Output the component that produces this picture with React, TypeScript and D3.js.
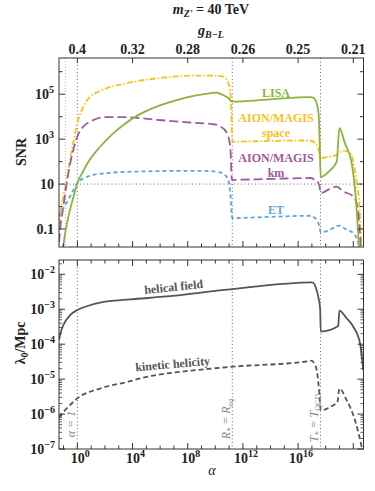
import React from "react";
import * as d3 from "d3";

type P = [number, number];

// log10(alpha), log10(SNR)
const lisa: P[] = [
  [-1.06, -1.95], [-1.01, -1.7], [-0.8, -0.9], [-0.53, -0.14], [-0.25, 0.5], [0, 1.04], [0.4, 1.55],
  [0.92, 2.1], [1.64, 2.65], [2.5, 3.2], [3.31, 3.62], [4.5, 4.1], [5.75, 4.45], [7, 4.7],
  [8.17, 4.89], [9.2, 5.0], [10.1, 5.07], [10.4, 5.0], [10.9, 4.85], [11.23, 4.67], [14, 4.77],
  [16.86, 4.87], [17.1, 4.85], [17.35, 4.6], [17.5, 4.0], [17.58, 2.5], [17.64, 1.31],
  [18.3, 1.6], [18.8, 2.0], [18.99, 3.49], [19.4, 2.8], [19.88, 1.95], [20.15, 0.6], [20.43, -1.95],
];
const aionSpace: P[] = [
  [-1.33, -0.8], [-1.25, -0.4], [-1.01, 0.45], [-0.75, 1.3], [-0.53, 2.08], [-0.25, 3.0], [0, 3.71],
  [0.4, 4.4], [0.92, 4.89], [1.5, 5.1], [2.13, 5.27], [3.3, 5.45], [4.54, 5.6], [6, 5.72],
  [6.96, 5.78], [8.89, 5.83], [10.0, 5.82], [10.58, 5.78], [10.94, 5.49], [11.1, 5.0], [11.2, 3.5],
  [11.23, 2.89], [14, 2.92], [16.86, 2.94], [17.2, 2.85], [17.45, 2.6], [17.64, 2.16], [18.3, 2.22],
  [18.8, 2.3], [19.28, 2.49], [19.77, 2.38], [20.0, 2.0], [20.25, 1.06], [20.45, 0], [20.6, -1.95],
];
const aionKm: P[] = [
  [-1.33, -1.6], [-1.25, -1.03], [-1.01, 0.0], [-0.8, 0.9], [-0.65, 1.49], [-0.3, 2.5], [0, 3.12],
  [0.43, 3.56], [0.92, 3.78], [2.13, 3.98], [3.33, 3.98], [5.75, 3.86], [8.17, 3.74], [10.1, 3.64],
  [10.35, 3.56], [10.7, 3.4], [10.94, 3.12], [11.1, 2.5], [11.2, 1.19], [14, 1.23], [16.86, 1.27],
  [17.2, 1.2], [17.4, 1.12], [17.55, 0.9], [17.64, 0.6], [18.2, 0.75], [18.8, 0.89], [19.28, 0.67],
  [20.0, 0.45], [20.3, 0], [20.56, -1.95],
];
const et: P[] = [
  [-1.33, -0.45], [-1.25, -0.29], [-1.01, -0.07], [-0.53, 0.45], [0, 1.04], [0.92, 1.37],
  [2.13, 1.49], [4.54, 1.56], [8.17, 1.59], [9.5, 1.58], [10.35, 1.52], [10.7, 1.4], [10.94, 1.19],
  [11.1, 0.5], [11.23, -0.51], [14, -0.46], [16.86, -0.41], [17.2, -0.5], [17.35, -0.59],
  [17.55, -0.9], [17.64, -1.15], [18.07, -1.1], [18.99, -0.85], [19.5, -1.03], [20.0, -1.18],
  [20.3, -1.5], [20.49, -1.95],
];
// log10(alpha), log10(lambda0 / Mpc)
const helical: P[] = [
  [-1.33, -3.88], [-1.2, -3.65], [-1.01, -3.45], [-0.53, -3.17], [0, -3.02], [0.8, -2.9],
  [1.64, -2.81], [3.82, -2.72], [6.23, -2.64], [11.07, -2.43], [16.99, -2.23], [17.1, -2.24],
  [17.3, -2.4], [17.46, -2.64], [17.6, -3.0], [17.64, -3.64], [18.91, -3.48], [18.99, -3.04],
  [19.5, -3.25], [20.0, -3.5], [20.49, -3.98], [20.72, -4.74],
];
const kinetic: P[] = [
  [-1.33, -6.1], [-1.13, -6.0], [-0.77, -5.84], [0, -5.55], [1.64, -5.27], [3.82, -5.06],
  [4.54, -4.98], [8.65, -4.74], [11.07, -4.65], [16.86, -4.48], [16.99, -4.47], [17.2, -4.58],
  [17.35, -4.74], [17.54, -5.41], [17.64, -5.89], [18.67, -5.72], [18.84, -5.68], [18.99, -5.27],
  [19.52, -5.6], [20.12, -6.17], [20.61, -6.94], [20.7, -7.1],
];

const xMajor = [0, 4, 8, 12, 16, 20];
const xMajorLabels = ["0", "4", "8", "12", "16"];
const gLabels = ["0.4", "0.32", "0.28", "0.26", "0.25", "0.21"];
const snrTicks = [-1, 1, 3, 5];
const snrLabels = ["0.1", "10", "10^3", "10^5"];
const lamTicks = [-7, -6, -5, -4, -3, -2];
const vLines = [0, 11.23, 17.62];

const FONT = "'Liberation Serif', 'Times New Roman', serif";
const C_GREEN = "#8cb33c";
const C_YELLOW = "#fcc01a";
const C_PURPLE = "#9e5a9e";
const C_BLUE = "#5ba6d6";
const C_DARK = "#555555";

export default function App() {
  const L = 59, R = 363.5;
  const T1 = 58, B1 = 247, T2 = 260, B2 = 449;
  const x = d3.scaleLog().domain([10 ** -1.33, 10 ** 20.74]).range([L, R]);
  const yTop = d3.scaleLog().domain([10 ** -1.8, 10 ** 6.61]).range([B1, T1]);
  const yBot = d3.scaleLog().domain([1e-7, 10 ** -1.59]).range([B2, T2]);
  const lineTop = d3.line<P>().x(d => x(10 ** d[0])).y(d => yTop(10 ** d[1])).curve(d3.curveMonotoneX);
  const lineBot = d3.line<P>().x(d => x(10 ** d[0])).y(d => yBot(10 ** d[1])).curve(d3.curveMonotoneX);
  const decades = d3.range(-1, 21);
  const snrDec = d3.range(-1, 7);
  const lamMinor: number[] = [];
  for (let e = -7; e <= -2; e++) for (let k = 2; k <= 9; k++) {
    const v = k * 10 ** e;
    if (v < 10 ** -1.59) lamMinor.push(v);
  }
  const ax = (e: number) => x(10 ** e);

  const sup = (base: string, exp: string, xx: number, yy: number, anchor: string, key?: string) => (
    <text key={key} x={xx} y={yy} textAnchor={anchor} fontFamily={FONT} fontWeight="bold" fontSize={14} fill="#222">
      {base}<tspan dy={-6} fontSize={10}>{exp}</tspan>
    </text>
  );

  return (
    <svg width={375} height={491} style={{ position: "absolute", left: 0, top: 0, display: "block" }}>
      <defs>
        <clipPath id="c1"><rect x={L} y={T1} width={R - L} height={B1 - T1} /></clipPath>
        <clipPath id="c2"><rect x={L} y={T2} width={R - L} height={B2 - T2} /></clipPath>
      </defs>
      <rect width={375} height={491} fill="#fff" />

      <text x={211} y={14} textAnchor="middle" fontFamily={FONT} fontSize={14} fontWeight="bold" fill="#222">
        <tspan fontStyle="italic">m</tspan><tspan fontStyle="italic" fontSize={10} dy={3}>Z'</tspan>
        <tspan dy={-3}> = 40 TeV</tspan>
      </text>
      <text x={211} y={35} textAnchor="middle" fontFamily={FONT} fontSize={14} fontWeight="bold" fill="#222">
        <tspan fontStyle="italic">g</tspan><tspan fontStyle="italic" fontSize={10} dy={3}>B−L</tspan>
      </text>
      {xMajor.map((e, i) => (
        <text key={"g" + i} x={ax(e)} y={54} textAnchor="middle" fontFamily={FONT} fontSize={14} fontWeight="bold" fill="#222">{gLabels[i]}</text>
      ))}

      {/* ---------- TOP PANEL ---------- */}
      <line x1={ax(-0.87)} x2={ax(-0.87)} y1={T1} y2={B1} stroke="#aaa" strokeWidth={0.9} strokeDasharray="1,2" />
      {vLines.map((e, i) => (
        <line key={"v1" + i} x1={ax(e)} x2={ax(e)} y1={T1} y2={B1} stroke="#444" strokeWidth={0.8} strokeDasharray="1,2.5" />
      ))}
      <line x1={L} x2={R} y1={yTop(10)} y2={yTop(10)} stroke="#444" strokeWidth={0.8} strokeDasharray="1,2.5" />

      <g clipPath="url(#c1)" fill="none" strokeWidth={1.8}>
        <path d={lineTop(aionSpace) || ""} stroke={C_YELLOW} strokeDasharray="6,2,1.5,2" />
        <path d={lineTop(aionKm) || ""} stroke={C_PURPLE} strokeDasharray="9,4" />
        <path d={lineTop(et) || ""} stroke={C_BLUE} strokeDasharray="4,3" />
        <path d={lineTop(lisa) || ""} stroke={C_GREEN} />
      </g>

      <g fontFamily={FONT} fontWeight="bold" fontSize={12} textAnchor="middle">
        <text x={276} y={97} fill={C_GREEN}>LISA</text>
        <text x={276} y={122} fill={C_YELLOW}>AION/MAGIS</text>
        <text x={276} y={137} fill={C_YELLOW}>space</text>
        <text x={276} y={162} fill={C_PURPLE}>AION/MAGIS</text>
        <text x={276} y={177} fill={C_PURPLE}>km</text>
        <text x={276} y={214} fill={C_BLUE}>ET</text>
      </g>

      <rect x={L} y={T1} width={R - L} height={B1 - T1} fill="none" stroke="#333" strokeWidth={1} />
      {decades.map(e => {
        const big = e % 4 === 0;
        return <line key={"tb" + e} x1={ax(e)} x2={ax(e)} y1={B1} y2={B1 - (big ? 6 : 3.5)} stroke="#333" />;
      })}
      {xMajor.map(e => (
        <line key={"tt" + e} x1={ax(e)} x2={ax(e)} y1={T1} y2={T1 + 5} stroke="#333" />
      ))}
      {snrDec.map(e => {
        const big = snrTicks.includes(e);
        const yy = yTop(10 ** e);
        return (
          <g key={"sy" + e}>
            <line x1={L} x2={L + (big ? 6 : 3.5)} y1={yy} y2={yy} stroke="#333" />
            <line x1={R} x2={R - (big ? 6 : 3.5)} y1={yy} y2={yy} stroke="#333" />
          </g>
        );
      })}
      {snrTicks.map((e, i) => {
        const lab = snrLabels[i];
        const yy = yTop(10 ** e) + 5;
        if (lab.includes("^")) {
          const [b, p] = lab.split("^");
          return sup(b, p, 54, yy, "end", "sl" + i);
        }
        return <text key={"sl" + i} x={54} y={yy} textAnchor="end" fontFamily={FONT} fontWeight="bold" fontSize={14} fill="#222">{lab}</text>;
      })}
      <text transform="translate(26,152) rotate(-90)" textAnchor="middle" fontFamily={FONT} fontWeight="bold" fontSize={14} fill="#222">SNR</text>

      {/* ---------- BOTTOM PANEL ---------- */}
      {vLines.map((e, i) => (
        <line key={"v2" + i} x1={ax(e)} x2={ax(e)} y1={T2} y2={B2} stroke="#444" strokeWidth={0.8} strokeDasharray="1,2.5" />
      ))}
      <g clipPath="url(#c2)" fill="none" strokeWidth={1.8} stroke={C_DARK}>
        <path d={lineBot(helical) || ""} />
        <path d={lineBot(kinetic) || ""} strokeDasharray="5,3" />
      </g>
      <g fontFamily={FONT} fontWeight="bold" fontSize={12} textAnchor="middle" fill={C_DARK}>
        <text transform="translate(174,291) rotate(-6)">helical field</text>
        <text transform="translate(173,368) rotate(-5)">kinetic helicity</text>
      </g>
      <g fontFamily={FONT} fontSize={12} fill="#8a8a8a" textAnchor="middle" fontStyle="italic">
        <text transform={`translate(${ax(0) - 2.5},424) rotate(-90)`}>α = 1</text>
        <text transform={`translate(${ax(11.23) - 2.5},419) rotate(-90)`}>
          R<tspan fontSize={8} dy={3}>*</tspan><tspan dy={-3}> = R</tspan><tspan fontSize={8} dy={3}>eq</tspan>
        </text>
        <text transform={`translate(${ax(17.62) - 2.5},418) rotate(-90)`}>
          T<tspan fontSize={8} dy={3}>*</tspan><tspan dy={-3}> = T</tspan><tspan fontSize={8} dy={3} fontStyle="normal">QCD</tspan>
        </text>
      </g>

      <rect x={L} y={T2} width={R - L} height={B2 - T2} fill="none" stroke="#333" strokeWidth={1} />
      {decades.map(e => {
        const big = e % 4 === 0;
        const len = big ? 6 : 3.5;
        return (
          <g key={"bx" + e}>
            <line x1={ax(e)} x2={ax(e)} y1={B2} y2={B2 - len} stroke="#333" />
            <line x1={ax(e)} x2={ax(e)} y1={T2} y2={T2 + len} stroke="#333" />
          </g>
        );
      })}
      {lamTicks.map(e => {
        const yy = yBot(10 ** e);
        return (
          <g key={"ly" + e}>
            <line x1={L} x2={L + 6} y1={yy} y2={yy} stroke="#333" />
            <line x1={R} x2={R - 6} y1={yy} y2={yy} stroke="#333" />
          </g>
        );
      })}
      {lamMinor.map((v, i) => {
        const yy = yBot(v);
        return (
          <g key={"lm" + i}>
            <line x1={L} x2={L + 3} y1={yy} y2={yy} stroke="#333" strokeWidth={0.8} />
            <line x1={R} x2={R - 3} y1={yy} y2={yy} stroke="#333" strokeWidth={0.8} />
          </g>
        );
      })}
      {lamTicks.map(e => sup("10", "−" + String(-e), 55, yBot(10 ** e) + 5, "end", "ll" + e))}
      <text transform="translate(25,343) rotate(-90)" textAnchor="middle" fontFamily={FONT} fontWeight="bold" fontSize={14} fill="#222">
        λ<tspan fontSize={10} dy={3}>0</tspan><tspan dy={-3}>/Mpc</tspan>
      </text>
      {xMajorLabels.map((p, i) => sup("10", p, ax(xMajor[i]) + 3, 463, "middle", "xl" + i))}
      <text x={212} y={475} textAnchor="middle" fontFamily={FONT} fontStyle="italic" fontSize={14} fill="#222">α</text>
    </svg>
  );
}
